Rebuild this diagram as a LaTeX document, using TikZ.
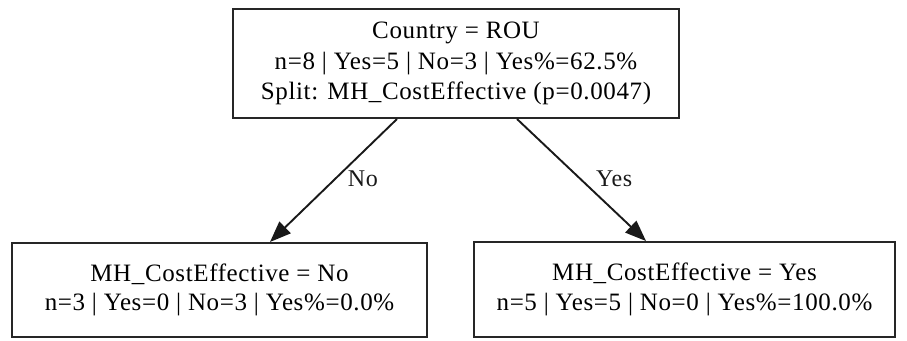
\documentclass[tikz,border=0pt]{standalone}
\usepackage{fontspec}
\setmainfont{Liberation Serif}[LetterSpace=2.5]
\usetikzlibrary{arrows.meta}
\begin{document}
\begin{tikzpicture}[x=1pt,y=-1pt,
  treenode/.style={draw=black!85, line width=2pt, rectangle, align=center,
    inner sep=0pt},
  rootfont/.style={font=\fontsize{25}{30.3}\selectfont},
  leaffont/.style={font=\fontsize{25}{29.5}\selectfont},
  edge/.style={line width=1.9pt, black!90, -{Triangle[length=21pt,width=16pt]}},
  edgelabel/.style={font=\fontsize{24}{28}\selectfont, inner sep=0pt,
    anchor=base west}]
  \useasboundingbox (0,0) rectangle (907,340);
  \node[treenode, rootfont, minimum width=446pt, minimum height=109pt] (root) at (456,63.5)
    {Country = ROU\\n=8 | Yes=5 | No=3 | Yes\%=62.5\%\\Split: MH\_CostEffective (p=0.0047)};
  \node[treenode, leaffont, minimum width=415pt, minimum height=94pt] (no) at (219.5,290)
    {MH\_CostEffective = No\\n=3 | Yes=0 | No=3 | Yes\%=0.0\%};
  \node[treenode, leaffont, minimum width=421pt, minimum height=95pt] (yes) at (684.5,289.5)
    {MH\_CostEffective = Yes\\n=5 | Yes=5 | No=0 | Yes\%=100.0\%};
  \draw[edge] ([xshift=-59pt]root.south) -- ([xshift=50.5pt]no.north)
    node[edgelabel, pos=0.552, xshift=20pt] {No};
  \draw[edge] ([xshift=61pt]root.south) -- ([xshift=-38.5pt]yes.north)
    node[edgelabel, pos=0.552, xshift=7pt] {Yes};
\end{tikzpicture}
\end{document}
